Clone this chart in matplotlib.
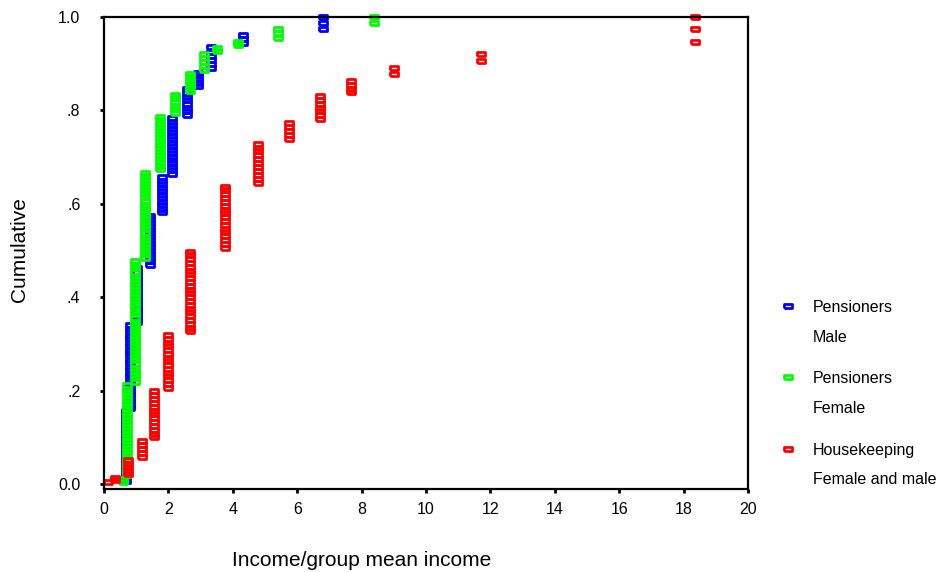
import numpy as np
import matplotlib.pyplot as plt
from matplotlib.lines import Line2D

plt.rcParams['font.family'] = ['Liberation Sans', 'DejaVu Sans']

# ---- frequency tables: income level, cumulative share at that level, number of cases ----
male_x = [0.67, 0.80, 1.02, 1.44, 1.80, 2.12, 2.57, 2.91, 3.31, 4.33, 6.80]
male_cum = [0.156, 0.340, 0.462, 0.575, 0.657, 0.783, 0.845, 0.881, 0.935, 0.962, 1.000]
male_n = [21, 25, 16, 15, 11, 17, 8, 5, 6, 3, 3]

female_x = [0.58, 0.71, 0.975, 1.28, 1.73, 2.20, 2.66, 3.10, 3.50, 4.15, 5.40, 8.39]
female_cum = [0.012, 0.212, 0.477, 0.667, 0.787, 0.834, 0.879, 0.920, 0.933, 0.946, 0.975, 1.000]
female_n = [2, 27, 35, 25, 16, 6, 6, 5, 2, 2, 3, 2]

house_x = [0.12, 0.34, 0.73, 1.18, 1.55, 2.00, 2.68, 3.75, 4.78, 5.73, 6.72, 7.66, 9.02, 11.70, 18.36]
house_cum = [0.004, 0.014, 0.051, 0.092, 0.199, 0.319, 0.498, 0.637, 0.729, 0.774, 0.830, 0.864, 0.890, 0.921, 1.000]
house_n = [1, 2, 5, 5, 13, 15, 22, 17, 11, 5, 7, 4, 2, 2, 3]

labels = ['Pensioners\nMale', 'Pensioners\nFemale', 'Housekeeping\nFemale and male']
colors = ['#0000ff', '#00ff00', '#ff0000']


def cases(x, cum, n):
    # spread each level's share over its cases, then accumulate case by case
    share = np.diff(np.concatenate([[0.0], cum]))
    w = np.repeat(share / np.array(n), n)
    return np.repeat(x, n), np.cumsum(w)


rect = [(-1, -0.5), (1, -0.5), (1, 0.5), (-1, 0.5), (-1, -0.5)]
msize, mwidth = 6.0, 2.0

fig = plt.figure(figsize=(9.43, 5.72), dpi=100)
ax = fig.add_axes([104 / 943, 1 - 489 / 572, 644 / 943, 472 / 572])

series = [(male_x, male_cum, male_n), (female_x, female_cum, female_n), (house_x, house_cum, house_n)]
for (x, cum, n), c in zip(series, colors):
    cx, cy = cases(x, cum, n)
    ax.plot(cx, cy, linestyle='none', marker=rect, markersize=msize, mfc='none', mec=c, mew=mwidth,
            clip_on=False)

ax.set_xlim(0.1, 20)
ax.set_ylim(-0.01, 1.0)
ax.set_xticks(np.arange(0, 21, 2))
ax.set_yticks([0, 0.2, 0.4, 0.6, 0.8, 1.0])
ax.set_yticklabels(['0.0', '.2', '.4', '.6', '.8', '1.0'])
ax.tick_params(axis='both', labelsize=11.5, length=3, width=2)
ax.tick_params(axis='y', pad=14)
ax.tick_params(axis='x', pad=6)
for s in ax.spines.values():
    s.set_linewidth(1.6)

fig.text(362 / 943, 1 - 560 / 572, 'Income/group mean income', fontsize=15, ha='center', va='center')
fig.text(20 / 943, 1 - 250 / 572, 'Cumulative', fontsize=15, ha='center', va='center', rotation=90)

# legend drawn beside the plot area
for i, (lab, c) in enumerate(zip(labels, colors)):
    top = 1 - (307 + 71.5 * i) / 572
    fig.add_artist(Line2D([787.5 / 943], [top + 1.5 / 572], transform=fig.transFigure, marker=rect,
                          markersize=msize, mfc='none', mec=c, mew=mwidth, linestyle='none'))
    first, second = lab.split('\n')
    fig.text(813 / 943, top, first, fontsize=11.5, va='center', ha='left')
    fig.text(813 / 943, top - 30 / 572, second, fontsize=11.5, va='center', ha='left')

fig.savefig('out.png', dpi=100)
